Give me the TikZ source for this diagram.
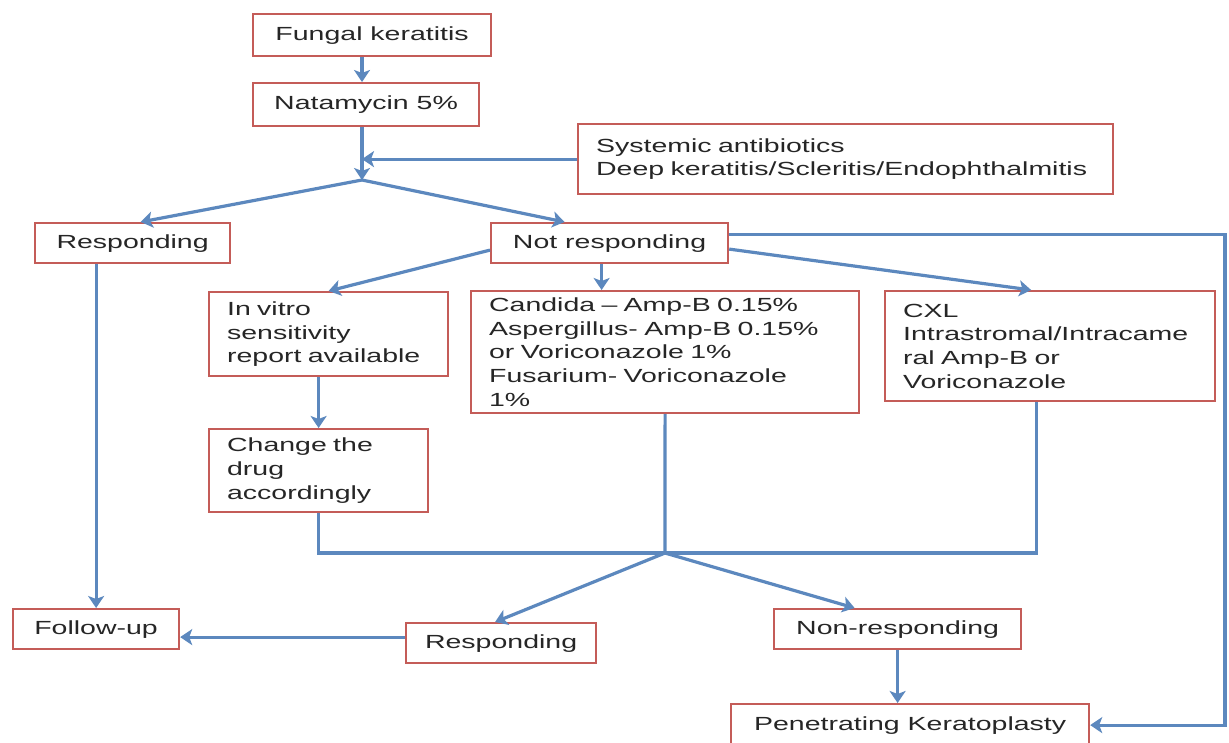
\documentclass[tikz,border=0pt]{standalone}
\usepackage{fontspec}
\setmainfont[FakeStretch=1.5]{Liberation Sans}
\usepackage{tikz}
\usetikzlibrary{arrows.meta,positioning,calc}
\definecolor{boxred}{RGB}{196,92,88}
\definecolor{flowblue}{RGB}{92,136,190}
\definecolor{inkgray}{RGB}{38,38,38}
\tikzset{
  fbox/.style={draw=boxred, line width=2.2pt, fill=white, text=inkgray, inner xsep=0pt, inner ysep=0pt,
    anchor=north west, font=\fontsize{19}{23.6}\selectfont},
  tbox/.style={fbox, align=left, inner xsep=18pt},
  flow/.style={draw=flowblue, line width=3.2pt, -{Stealth[length=12pt,width=16pt,inset=3pt]}},
  rail/.style={draw=flowblue, line width=3.2pt},
}

\begin{document}
\begin{tikzpicture}[x=1pt,y=-1pt]
\path[fill=white, use as bounding box] (0,0) rectangle (1229,742);

% upper part
\node[fbox, minimum width=238pt, minimum height=42pt] (fungal) at (252,13) {Fungal keratitis};
\node[fbox, minimum width=226pt, minimum height=43pt] (natamycin) at (252,82) {Natamycin 5\%};
\node[tbox, text width=499pt, minimum height=70pt] (systemic) at (577,123)
  {Systemic antibiotics\\Deep keratitis/Scleritis/Endophthalmitis};
\coordinate (split) at (362,180);

\node[fbox, minimum width=195pt, minimum height=40pt] (responding) at (34,222) {Responding};
\node[fbox, minimum width=237pt, minimum height=40pt] (notresp) at (490,222) {Not responding};

% treatment options
\node[tbox, text width=203pt, minimum height=84pt] (vitro) at (208,291)
  {In vitro\\sensitivity\\report available};
\node[tbox, text width=352pt, minimum height=122pt] (candida) at (470,290)
  {Candida \textendash\ Amp-B 0.15\%\\Aspergillus- Amp-B 0.15\%\\or Voriconazole 1\%\\Fusarium- Voriconazole\\1\%};
\node[tbox, text width=294pt, minimum height=110pt] (cxl) at (884,290)
  {CXL\\Intrastromal/Intracame\\ral Amp-B or\\Voriconazole};
\node[tbox, text width=183pt, minimum height=83pt] (change) at (208,428)
  {Change the\\drug\\accordingly};
\coordinate (merge) at (665,553);
\coordinate (rail) at (1225,233);

% outcome
\node[fbox, minimum width=166pt, minimum height=40pt] (followup) at (12,608) {Follow-up};
\node[fbox, minimum width=190pt, minimum height=40pt] (resp2) at (405,622) {Responding};
\node[fbox, minimum width=247pt, minimum height=40pt] (nonresp) at (773,608) {Non-responding};
\node[fbox, minimum width=358pt, minimum height=42pt] (pk) at (730,703) {Penetrating Keratoplasty};

\draw[flow] (fungal.south -| split) -- (natamycin.north -| split);
\draw[flow] (natamycin.south -| split) -- (split);
\draw[flow] (systemic.west) -- (systemic.west -| split);
\draw[flow] (split) -- ([xshift=8pt]responding.north);
\draw[flow] (split) -- ([xshift=-45pt]notresp.north);

\draw[flow] ([yshift=-7pt]notresp.west) -- (vitro.north);
\draw[flow] ([xshift=-8pt]notresp.south) -- ([xshift=-8pt]notresp.south |- candida.north);
\draw[flow] ([yshift=-6pt]notresp.east) -- ([xshift=-19pt]cxl.north);
\draw[flow] ([yshift=9pt]notresp.east) -| (rail |- pk.east) -- (pk.east);

\draw[flow] (vitro.south -| change.north) -- (change.north);
\draw[flow] (responding.south -| followup.north) -- (followup.north);

\draw[rail] (change.south) |- (merge) -| ([xshift=-14pt]cxl.south);
\draw[rail] (candida.south) -- (merge);
\draw[flow] (merge) -- ([xshift=-6pt]resp2.north);
\draw[flow] (merge) -- ([xshift=-43pt]nonresp.north);

\draw[flow] ([yshift=6pt]resp2.west) -- ([yshift=6pt]resp2.west -| followup.east);
\draw[flow] (nonresp.south) -- (nonresp.south |- pk.north);
\end{tikzpicture}
\end{document}
